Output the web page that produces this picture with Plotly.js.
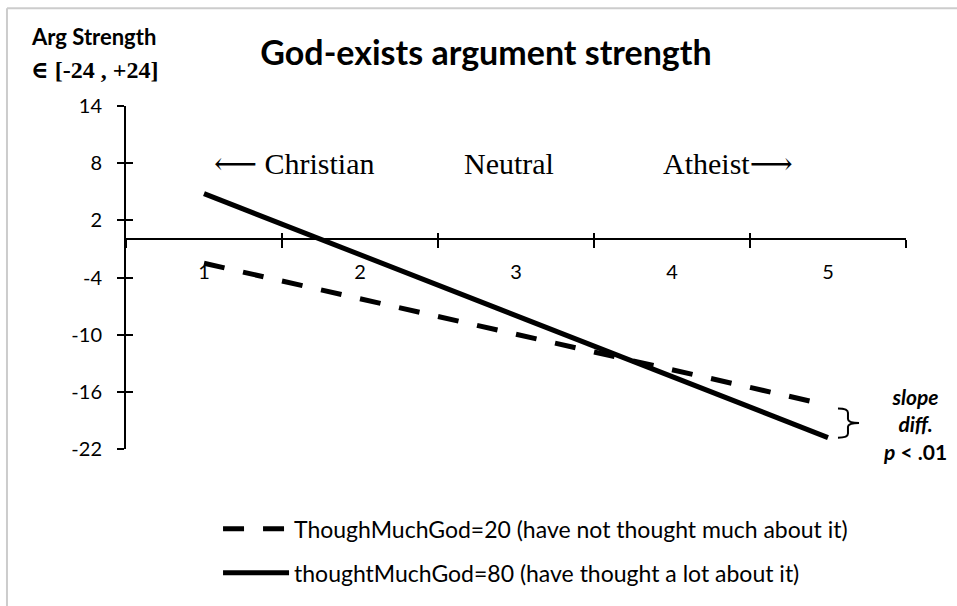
<!DOCTYPE html>
<html>
<head>
<meta charset="utf-8">
<script src="https://cdn.plot.ly/plotly-3.0.1.min.js"></script>
<style>
  html, body { margin: 0; padding: 0; background: #ffffff; }
  #chart { width: 957px; height: 606px; }
</style>
</head>
<body>
<div id="chart"></div>
<script>
// ---- data ----
const categories = [1, 2, 3, 4, 5];
const categoryLabels = ['1', '2', '3', '4', '5'];
const thoughtLowName = 'ThoughMuchGod=20 (have not thought much about it)';
const thoughtLowValues = [-2.5, -6.2, -10.0, -13.7, -17.4];
const thoughtHighName = 'thoughtMuchGod=80 (have thought a lot about it)';
const thoughtHighValues = [4.8, -1.6, -8.0, -14.4, -20.8];
const yTickValues = [14, 8, 2, -4, -10, -16, -22];
const yTickLabels = ['14', '8', '2', '-4', '-10', '-16', '-22'];
const xBoundaryTicks = [0.5, 1.5, 2.5, 3.5, 4.5, 5.5];
const regionLabels = ['\u27F5 Christian', 'Neutral', 'Atheist\u27F6'];
const regionPositions = [1.58, 2.955, 4.362];

const yRange = [-22, 14];
const xRange = [0.5, 5.5];
const zeroPos = (0 - yRange[0]) / (yRange[1] - yRange[0]);

const sansFont = 'Lato, "Open Sans", "DejaVu Sans", sans-serif';
const serifFont = '"Liberation Serif", "DejaVu Serif", serif';

const traces = [
  {
    x: categories, y: thoughtLowValues, name: thoughtLowName,
    type: 'scatter', mode: 'lines', xaxis: 'x', yaxis: 'y',
    line: { color: '#000000', width: 5, dash: '21px,19px' },
    legendgroup: 'a'
  },
  {
    x: categories, y: thoughtHighValues, name: thoughtHighName,
    type: 'scatter', mode: 'lines', xaxis: 'x', yaxis: 'y',
    line: { color: '#000000', width: 5 },
    legendgroup: 'b'
  },
  // helper traces so overlay axes are drawn
  { x: [], y: [], xaxis: 'x2', yaxis: 'y2', showlegend: false, hoverinfo: 'skip' },
  { x: [], y: [], xaxis: 'x3', yaxis: 'y', showlegend: false, hoverinfo: 'skip' }
];

const annotations = regionLabels.map((t, i) => ({
  text: t, x: regionPositions[i], y: 8, xref: 'x', yref: 'y',
  showarrow: false, xanchor: 'center', yanchor: 'middle',
  font: { family: serifFont, size: 30, color: '#000' }
}));

annotations.push({
  text: '<b>Arg Strength</b>', xref: 'paper', yref: 'paper',
  x: -0.1244, y: 1.2017, xanchor: 'left', yanchor: 'middle', showarrow: false,
  font: { family: sansFont, size: 22, color: '#000' }
});
annotations.push({
  text: '<b>\u2208 [-24 , +24]</b>', xref: 'paper', yref: 'paper',
  x: -0.1244, y: 1.1037, xanchor: 'left', yanchor: 'middle', showarrow: false,
  font: { family: serifFont, size: 24, color: '#000' }
});
annotations.push({
  text: '<b><i>slope</i></b><br><b><i>diff.</i></b><br><b><i>p</i> &lt; .01</b>',
  xref: 'paper', yref: 'paper', x: 1.0115, y: 0.074,
  xanchor: 'center', yanchor: 'middle', align: 'center', showarrow: false,
  font: { family: sansFont, size: 21, color: '#000' }
});

const shapes = [
  {
    type: 'path', xref: 'x', yref: 'y',
    path: 'M5.064,-17.76 Q5.128,-17.76 5.128,-18.2 L5.128,-18.85 Q5.128,-19.26 5.199,-19.26 ' +
          'Q5.128,-19.26 5.128,-19.67 L5.128,-20.38 Q5.128,-20.82 5.064,-20.82',
    line: { color: '#000', width: 2 }
  },
  // light frame: top edge and left edge
  {
    type: 'line', xref: 'paper', yref: 'paper',
    x0: -0.1526, x1: 1.1, y0: 1.2853, y1: 1.2853,
    line: { color: '#cccccc', width: 2 }, layer: 'above'
  },
  {
    type: 'line', xref: 'paper', yref: 'paper',
    x0: -0.1526, x1: -0.1526, y0: -0.5, y1: 1.2853,
    line: { color: '#cccccc', width: 2 }, layer: 'above'
  }
];

const layout = {
  width: 957, height: 606,
  margin: { l: 126, r: 51, t: 106, b: 153 },
  paper_bgcolor: '#ffffff', plot_bgcolor: 'rgba(0,0,0,0)',
  title: {
    text: '<b>God-exists argument strength</b>',
    x: 486 / 957, xanchor: 'center',
    y: 1 - 53 / 606, yanchor: 'middle',
    font: { family: sansFont, size: 34, color: '#000' }
  },
  showlegend: true,
  legend: {
    x: 0.118, y: -0.17, xanchor: 'left', yanchor: 'top',
    orientation: 'v', tracegroupgap: 11, itemwidth: 66,
    font: { family: sansFont, size: 23, color: '#000' },
    bgcolor: 'rgba(0,0,0,0)'
  },
  xaxis: {
    range: xRange, anchor: 'free', position: zeroPos,
    showline: true, linecolor: '#000', linewidth: 2,
    tickmode: 'array', tickvals: xBoundaryTicks, ticks: 'outside', ticklen: 8,
    tickcolor: '#000', tickwidth: 2,
    showticklabels: false, showgrid: false, zeroline: false, fixedrange: true
  },
  xaxis2: {
    range: xRange, overlaying: 'x', anchor: 'free', position: zeroPos,
    showline: false, tickmode: 'array', tickvals: xBoundaryTicks,
    ticks: 'inside', ticklen: 6, tickcolor: '#000', tickwidth: 2,
    showticklabels: false, showgrid: false, zeroline: false
  },
  xaxis3: {
    range: xRange, overlaying: 'x', anchor: 'free', position: zeroPos,
    showline: false, tickmode: 'array', tickvals: categories, ticktext: categoryLabels,
    ticks: '', ticklabelstandoff: 19, layer: 'below traces',
    tickfont: { family: sansFont, size: 20, color: '#000' },
    showgrid: false, zeroline: false
  },
  yaxis: {
    range: yRange, showline: true, linecolor: '#000', linewidth: 2,
    tickmode: 'array', tickvals: yTickValues, ticktext: yTickLabels,
    ticks: 'outside', ticklen: 7,
    tickcolor: '#000', tickwidth: 2, ticklabelstandoff: 11,
    tickfont: { family: sansFont, size: 20, color: '#000' },
    showgrid: false, zeroline: false
  },
  yaxis2: {
    range: yRange, overlaying: 'y', anchor: 'x',
    showline: false, tickmode: 'array', tickvals: yTickValues,
    ticks: 'inside', ticklen: 7, tickcolor: '#000', tickwidth: 2,
    showticklabels: false, showgrid: false, zeroline: false
  },
  annotations: annotations,
  shapes: shapes
};

Plotly.newPlot('chart', traces, layout, { displayModeBar: false, staticPlot: true });
</script>
</body>
</html>
